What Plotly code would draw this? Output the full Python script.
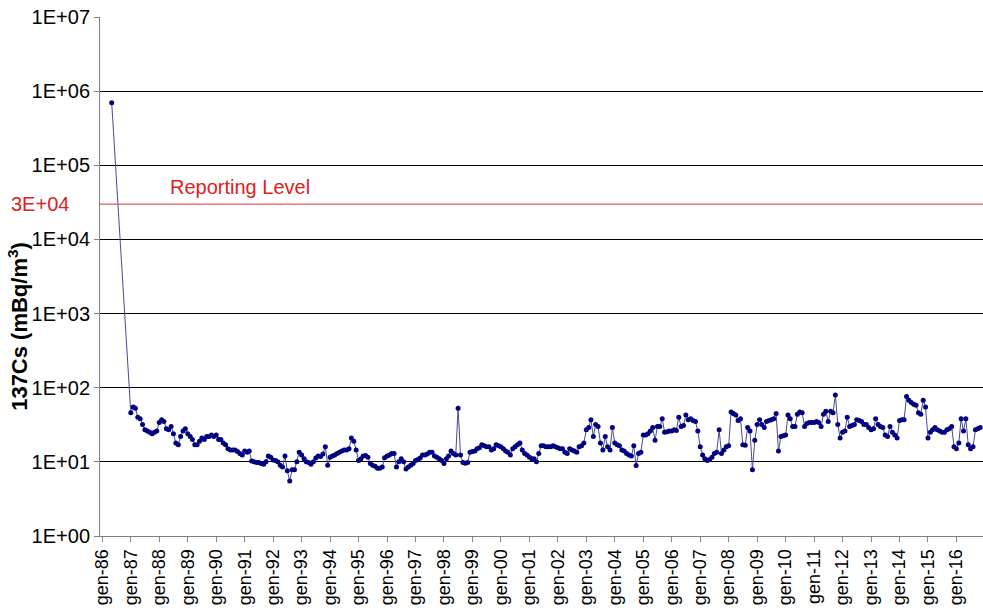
import math
import plotly.graph_objects as go

# 137Cs air concentration (mBq/m3), monthly means
first_date = "1986-05-01"
first_value = 700000

vals_1987_1991 = [
    46, 55, 53, 40, 38, 32, 27, 26, 25, 24, 25, 26,
    34, 37, 35, 28, 27, 30, 24, 18, 17, 22, 26, 28,
    24, 22, 20, 17, 17, 19, 21, 20, 22, 22, 23, 22,
    23, 20, 20, 18, 17, 15, 14.5, 14.5, 14.5, 13.8, 13, 12.4,
    14, 13.5, 14, 10.3, 10, 9.8, 9.8, 9.5, 9.3, 10, 12, 11.5,
]
vals_1992_1996 = [
    10.6, 10.4, 10, 9, 8.5, 12, 7.6, 5.5, 7.8, 7.8, 10, 13.5,
    12.4, 11, 10, 9.8, 9.3, 10, 11.3, 12, 11.8, 12.8, 16, 9,
    11.5, 12, 12.4, 13, 13.5, 14, 14.5, 14.5, 15, 21, 19, 14.5,
    10.4, 11, 12, 12.2, 11.5, 9.5, 9, 8.7, 8.2, 8.2, 8.5, 11.4,
    12, 12.4, 13, 13, 8.5, 10, 11, 10, 8, 8.5, 9, 9.5,
]
vals_1997_2001 = [
    10.4, 10.8, 11.3, 12.4, 12.4, 12.8, 13.5, 13.5, 12, 11.5, 11, 10.4,
    9.5, 11, 12, 14, 13, 12.4, 53, 12.4, 9.8, 9.6, 9.8, 13.5,
    13.8, 14, 15, 15.5, 17, 16.5, 16, 16, 14.5, 15, 17, 16.5,
    16, 15, 14, 13.5, 12.4, 15, 16, 17, 18, 14.5, 13, 12.4,
    11.5, 11, 11, 10, 13, 16.5, 16.5, 16, 16, 16, 16.5, 16,
]
vals_2002_2006 = [
    15.5, 15, 15, 13.5, 13, 15, 14.5, 14, 13.5, 16, 16.5, 18,
    27, 29, 37, 22, 32, 30, 18, 14.5, 22, 16, 14.5, 29,
    18, 17, 16.5, 14.5, 14, 13, 12.4, 12, 16.5, 8.9, 13, 13.5,
    23, 23, 24, 26, 29, 19.5, 30, 30, 38, 25, 25.5, 26,
    26, 27, 26.5, 40, 30, 31, 43, 37, 38, 36, 35, 26,
]
vals_2007_2011 = [
    16, 12.4, 11, 10.4, 10.8, 11.5, 13, 13.5, 27, 13, 14.5, 16,
    16.5, 47, 45, 43, 36, 38, 17, 16.8, 29, 26, 7.8, 19.5,
    32, 37, 32, 29, 35, 36, 37, 38, 45, 14, 22, 22.5,
    23, 43, 38, 30, 30, 44, 47, 46, 30, 33, 34, 34,
    34, 35, 34, 30, 44, 48, 35, 48, 46, 80, 32, 21,
]
vals_2012_2016 = [
    25, 26, 40, 30, 31, 32, 37, 36, 35, 32, 32, 29,
    27, 28, 38, 32, 30, 29, 23, 22, 30, 25, 23, 21,
    36, 37, 37, 76, 68, 63, 60, 58, 46, 44, 68, 55,
    21, 25, 27, 29, 27, 26, 25, 25, 27, 28, 30, 16,
    15, 18, 38, 26, 38, 17, 15, 16, 27, 28, 29,
]

reporting_level = 3e4
tick_years = list(range(1986, 2017))
tick_labels = ["gen-%02d" % (y % 100) for y in tick_years]
y_decades = list(range(0, 8))
y_labels = ["1E+%02d" % d for d in y_decades]

monthly = (vals_1987_1991 + vals_1992_1996 + vals_1997_2001
           + vals_2002_2006 + vals_2007_2011 + vals_2012_2016)
dates = [first_date]
for i in range(len(monthly)):
    y = 1987 + i // 12
    m = i % 12 + 1
    dates.append("%d-%02d-01" % (y, m))
values = [first_value] + monthly

FONT = "Arial, Liberation Sans, sans-serif"

fig = go.Figure()
fig.add_trace(go.Scatter(
    x=dates, y=values, mode="lines+markers",
    line=dict(color="#4a4a96", width=1),
    marker=dict(color="#000080", size=5),
    showlegend=False,
))

# reporting level line across the plot
fig.add_shape(type="line", xref="paper", x0=0, x1=1, yref="y",
              y0=reporting_level, y1=reporting_level,
              line=dict(color="#e05a5a", width=1.2), layer="above")

fig.add_annotation(text="3E+04", xref="paper", x=0, xshift=-29, xanchor="right",
                   yref="y", y=math.log10(reporting_level), yanchor="middle",
                   showarrow=False, font=dict(family=FONT, size=20, color="#e02020"))
fig.add_annotation(text="Reporting Level", xref="paper", x=(168 - 100) / 883, xanchor="left",
                   yref="y", y=math.log10(reporting_level), yshift=17, yanchor="middle",
                   showarrow=False, font=dict(family=FONT, size=20, color="#e02020"))
fig.add_annotation(text="<b>137Cs (mBq/m<sup>3</sup>)</b>", xref="paper", x=0, xshift=-82,
                   xanchor="center", yref="paper", y=0.403, yanchor="middle",
                   textangle=-90, showarrow=False,
                   font=dict(family=FONT, size=22, color="#000000"))

fig.update_layout(
    width=983, height=611,
    margin=dict(l=100, r=0, t=17, b=75),
    paper_bgcolor="white", plot_bgcolor="white",
    font=dict(family=FONT, size=18, color="#000000"),
    xaxis=dict(
        type="date",
        range=["1985-12-02", "2016-12-07"],
        tickvals=["%d-01-01" % y for y in tick_years],
        ticktext=tick_labels,
        tickangle=-90,
        ticks="outside", ticklen=5, tickcolor="#808080",
        showline=True, linecolor="#808080", linewidth=1,
        showgrid=False, zeroline=False,
        tickfont=dict(family=FONT, size=18, color="#000000"),
    ),
    yaxis=dict(
        type="log",
        range=[0, 7],
        tickvals=[10 ** d for d in y_decades],
        ticktext=y_labels,
        ticks="outside", ticklen=5, tickcolor="#808080",
        showline=True, linecolor="#808080", linewidth=1,
        showgrid=True, gridcolor="#000000", gridwidth=1,
        zeroline=False,
        tickfont=dict(family=FONT, size=20, color="#000000"),
    ),
)

fig.write_html("out.html")
